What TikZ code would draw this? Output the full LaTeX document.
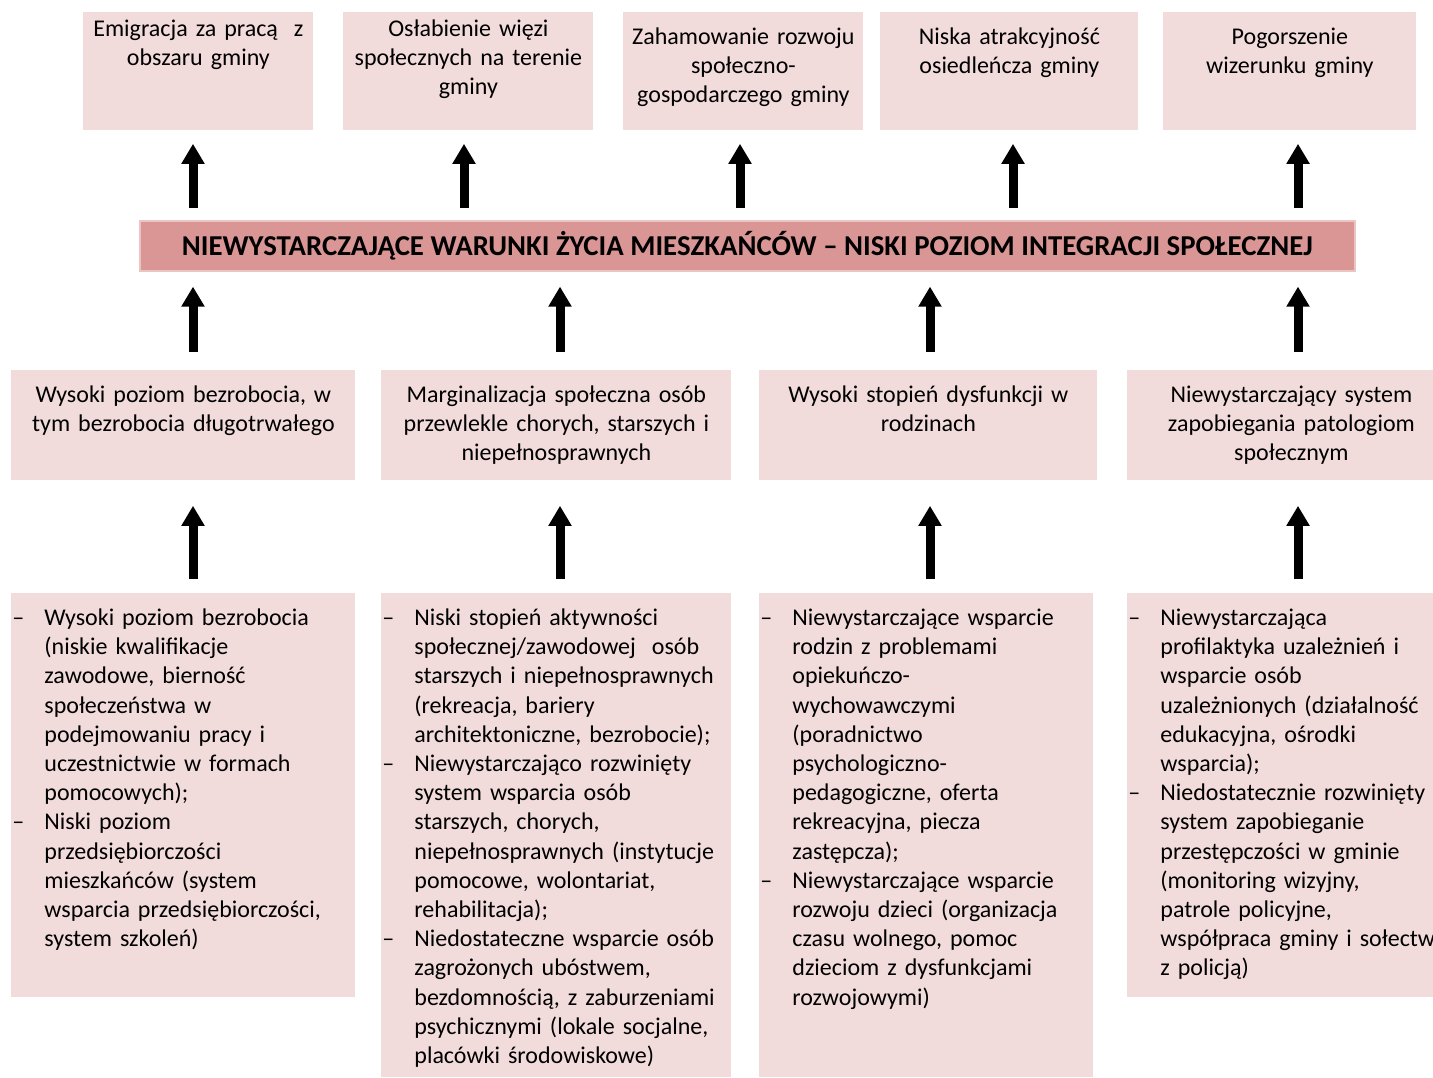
\documentclass[tikz,border=0pt]{standalone}
\usepackage{fontspec}
\setmainfont{Carlito}
\usetikzlibrary{arrows.meta}

\definecolor{cellpink}{HTML}{F2DCDB}
\definecolor{corepink}{HTML}{D99694}

\begin{document}
\begin{tikzpicture}[
  x=0.5pt, y=-0.5pt,
  font=\fontsize{12}{14.6}\selectfont,
  cell/.style={fill=cellpink, anchor=north west,
    inner xsep=1.5pt, inner ysep=0pt, text height=16pt},
  effectbox/.style={cell, align=center},
  problembox/.style={cell, align=center, text depth=39pt},
  causebox/.style={cell, align=left, inner xsep=0.5pt},
  corebox/.style={fill=corepink, draw=corepink!55!white, line width=0.8pt,
    anchor=north west, minimum width=607.5pt, minimum height=25pt,
    inner sep=0pt, font=\fontsize{14.4}{16}\selectfont\bfseries},
  arr/.style={-{Triangle[length=10pt,width=11pt]}, line width=4.5pt, draw=black}
]
\useasboundingbox (0,0) rectangle (1433,1077);

% effects
\node[effectbox, text width=112pt, text height=12pt, text depth=47pt] (e1) at (83,12)
  {Emigracja za pracą \ z\\obszaru gminy};
\node[effectbox, text width=122pt, text height=12pt, text depth=47pt] (e2) at (343,12)
  {Osłabienie więzi\\społecznych na terenie\\gminy};
\node[effectbox, text width=117pt, text depth=43pt] (e3) at (623,12)
  {Zahamowanie rozwoju\\społeczno-\\gospodarczego gminy};
\node[effectbox, text width=126pt, text depth=43pt] (e4) at (880,12)
  {Niska atrakcyjność\\osiedleńcza gminy};
\node[effectbox, text width=123.5pt, text depth=43pt] (e5) at (1163,12)
  {Pogorszenie\\wizerunku gminy};

% core problem
\node[corebox] (core) at (139,220)
  {NIEWYSTARCZAJĄCE WARUNKI ŻYCIA MIESZKAŃCÓW -- NISKI POZIOM INTEGRACJI SPOŁECZNEJ};

% problems
\node[problembox, text width=169pt] (p1) at (11,370)
  {Wysoki poziom bezrobocia, w\\tym bezrobocia długotrwałego};
\node[problembox, text width=172pt] (p2) at (381,370)
  {Marginalizacja społeczna osób\\przewlekle chorych, starszych i\\niepełnosprawnych};
\node[problembox, text width=166pt] (p3) at (759,370)
  {Wysoki stopień dysfunkcji w\\rodzinach};
\node[problembox, text width=161pt] (p4) at (1127,370)
  {Niewystarczający system\\zapobiegania patologiom\\społecznym};

% causes
\node[causebox, text width=171pt, text depth=186pt] (c1) at (11,593) {%
  \begin{tabular}[t]{@{}p{16pt}@{}l@{}}
  -- & Wysoki poziom bezrobocia\\
     & (niskie kwalifikacje\\
     & zawodowe, bierność\\
     & społeczeństwa w\\
     & podejmowaniu pracy i\\
     & uczestnictwie w formach\\
     & pomocowych);\\
  -- & Niski poziom\\
     & przedsiębiorczości\\
     & mieszkańców (system\\
     & wsparcia przedsiębiorczości,\\
     & system szkoleń)
  \end{tabular}};
\node[causebox, text width=174pt, text depth=226pt] (c2) at (381,593) {%
  \begin{tabular}[t]{@{}p{16pt}@{}l@{}}
  -- & Niski stopień aktywności\\
     & społecznej/zawodowej \ osób\\
     & starszych i niepełnosprawnych\\
     & (rekreacja, bariery\\
     & architektoniczne, bezrobocie);\\
  -- & Niewystarczająco rozwinięty\\
     & system wsparcia osób\\
     & starszych, chorych,\\
     & niepełnosprawnych (instytucje\\
     & pomocowe, wolontariat,\\
     & rehabilitacja);\\
  -- & Niedostateczne wsparcie osób\\
     & zagrożonych ubóstwem,\\
     & bezdomnością, z zaburzeniami\\
     & psychicznymi (lokale socjalne,\\
     & placówki środowiskowe)
  \end{tabular}};
\node[causebox, text width=166pt, text depth=226pt] (c3) at (759,593) {%
  \begin{tabular}[t]{@{}p{16pt}@{}l@{}}
  -- & Niewystarczające wsparcie\\
     & rodzin z problemami\\
     & opiekuńczo-\\
     & wychowawczymi\\
     & (poradnictwo\\
     & psychologiczno-\\
     & pedagogiczne, oferta\\
     & rekreacyjna, piecza\\
     & zastępcza);\\
  -- & Niewystarczające wsparcie\\
     & rozwoju dzieci (organizacja\\
     & czasu wolnego, pomoc\\
     & dzieciom z dysfunkcjami\\
     & rozwojowymi)
  \end{tabular}};
\node[causebox, text width=170pt, text depth=186pt] (c4) at (1127,593) {%
  \begin{tabular}[t]{@{}p{16pt}@{}l@{}}
  -- & Niewystarczająca\\
     & profilaktyka uzależnień i\\
     & wsparcie osób\\
     & uzależnionych (działalność\\
     & edukacyjna, ośrodki\\
     & wsparcia);\\
  -- & Niedostatecznie rozwinięty\\
     & system zapobieganie\\
     & przestępczości w gminie\\
     & (monitoring wizyjny,\\
     & patrole policyjne,\\
     & współpraca gminy i sołectw\\
     & z policją)
  \end{tabular}};

% arrows
\foreach \n/\x in {e1/193,e2/464,e3/740,e4/1013,e5/1298}
  \draw[arr, shorten <=6pt, shorten >=6.5pt] (\x,0 |- core.north) -- (\x,0 |- \n.south);
\foreach \n/\x in {p1/193,p2/560,p3/930,p4/1298}
  \draw[arr, shorten <=9pt, shorten >=7.5pt] (\x,0 |- \n.north) -- (\x,0 |- core.south);
\foreach \c/\p/\x in {c1/p1/193,c2/p2/560,c3/p3/930,c4/p4/1298}
  \draw[arr, shorten <=7pt, shorten >=12.5pt] (\x,0 |- \c.north) -- (\x,0 |- \p.south);

\end{tikzpicture}
\end{document}
